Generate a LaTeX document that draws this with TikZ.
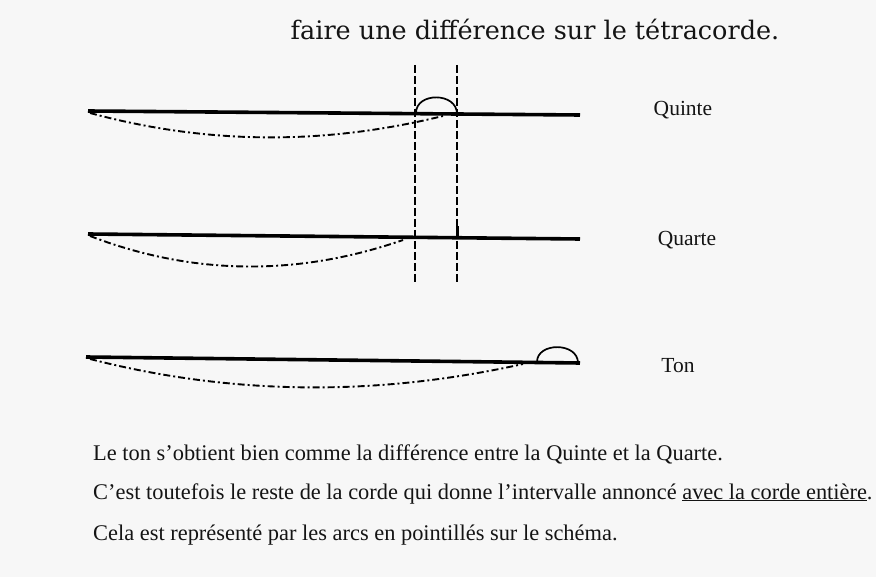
\documentclass[tikz,border=0pt]{standalone}
\usepackage{fontspec}
\setmainfont{Liberation Serif}
\newfontfamily\titlefont{DejaVu Serif}
\begin{document}
\begin{tikzpicture}[x=1pt,y=-1pt,
  chord/.style={line width=3.6pt, line cap=butt},
  arcline/.style={line width=1.9pt, dash pattern=on 7pt off 3pt on 2pt off 3pt},
  guide/.style={line width=2pt, dash pattern=on 8pt off 3pt},
  bump/.style={line width=1.7pt},
  lbl/.style={font=\fontsize{21.5}{24}\selectfont, inner sep=0pt, text=black!92},
  para/.style={anchor=base west, font=\fontsize{22.4}{25}\selectfont, inner sep=0pt, text=black!92},
]
\fill[gray!6] (0,0) rectangle (876,577);
\useasboundingbox (0,0) rectangle (876,577);

% title
\node[anchor=base, inner sep=0pt, font=\titlefont\fontsize{25.5}{28}\selectfont, text=black!92] (title) at (535,40) {faire une différence sur le tétracorde.};

% Quinte
\coordinate (qiL) at (88,111);
\coordinate (qiR) at (580,115);
\draw[chord] (qiL) -- (qiR);
\coordinate (qiA) at (90,113);
\coordinate (qiB) at (443,116);
\draw[arcline] (qiA) .. controls (208,145) and (325,145) .. (qiB);
\coordinate (qiS1) at (416,113);
\coordinate (qiS2) at (457,114);
\draw[bump] (qiS1) .. controls (416,92) and (457,92) .. (qiS2);
\node[lbl] (quinte) at (683,110) {Quinte};

% Quarte
\coordinate (quL) at (88,234);
\coordinate (quR) at (580,239);
\draw[chord] (quL) -- (quR);
\coordinate (quA) at (90,236);
\coordinate (quB) at (403,240);
\draw[arcline] (quA) .. controls (194,276) and (299,276) .. (quB);
\coordinate (quT1) at (457,238);
\coordinate (quT2) at (457,226);
\draw[line width=3pt] (quT1) -- (quT2);
\node[lbl] (quarte) at (687,240) {Quarte};

% Ton
\coordinate (toL) at (86,357);
\coordinate (toR) at (580,363);
\draw[chord] (toL) -- (toR);
\coordinate (toA) at (90,359);
\coordinate (toB) at (523,364);
\draw[arcline] (toA) .. controls (234,396) and (379,396) .. (toB);
\coordinate (toS1) at (537,362);
\coordinate (toS2) at (578,363);
\draw[bump] (toS1) .. controls (537,342) and (578,342) .. (toS2);
\node[lbl] (ton) at (678,366) {Ton};

% vertical guides
\coordinate (g1t) at (415,65); \coordinate (g1b) at (415,283);
\coordinate (g2t) at (457,65); \coordinate (g2b) at (457,283);
\draw[guide] (g1t) -- (g1b);
\draw[guide] (g2t) -- (g2b);

% text
\node[para] (t1) at (93,460) {Le ton s’obtient bien comme la différence entre la Quinte et la Quarte.};
\node[para] (t2) at (93,499) {C’est toutefois le reste de la corde qui donne l’intervalle annoncé \underline{avec la corde entière}.};
\node[para] (t3) at (93,540) {Cela est représenté par les arcs en pointillés sur le schéma.};
\end{tikzpicture}
\end{document}
